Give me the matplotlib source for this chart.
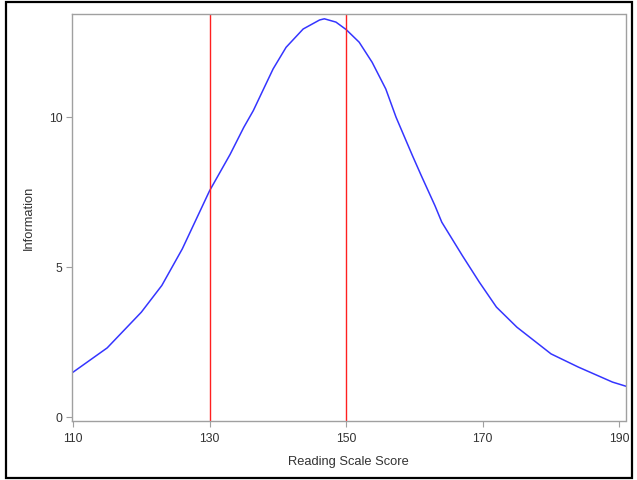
import matplotlib.pyplot as plt
from matplotlib.patches import Rectangle

plt.rcParams['font.family'] = ['Liberation Sans', 'DejaVu Sans']

# information curve
score = [110, 115, 120, 123, 126, 130, 133, 135, 136.4, 137.9, 139.3, 141.2,
         143.7, 146.1, 146.8, 148.5, 150, 151.9, 153.8, 155.8, 157.3, 159.7, 161,
         163, 164, 167, 169.5, 172, 175, 180, 184, 189, 191]
info = [1.49, 2.3, 3.49, 4.38, 5.6, 7.54, 8.75, 9.65, 10.21, 10.93, 11.6, 12.32,
        12.93, 13.23, 13.27, 13.16, 12.91, 12.49, 11.82, 10.93, 9.99, 8.71, 8.04,
        7.04, 6.49, 5.38, 4.49, 3.66, 2.99, 2.1, 1.66, 1.16, 1.02]
cutoffs = [130, 150]
xticks = [110, 130, 150, 170, 190]
yticks = [0, 5, 10]

fig = plt.figure(figsize=(6.37, 4.81), dpi=100)
ax = fig.add_axes([72 / 637, 1 - 421.5 / 481, 553.5 / 637, 406.5 / 481])

ax.plot(score, info, color='#3535ff', lw=1.1)
for c in cutoffs:
    ax.axvline(c, color='#ff2020', lw=1.0)

ax.set_xlim(109.85, 190.9)
ax.set_ylim(-0.12, 13.43)
ax.set_xticks(xticks)
ax.set_yticks(yticks)
ax.tick_params(direction='out', length=4, width=0.8, color='#a0a0a0',
               labelsize=8.8, labelcolor='#333333', pad=3)
ax.tick_params(axis='x', pad=4)
for s in ax.spines.values():
    s.set_color('#a0a0a0')
    s.set_linewidth(1.0)

ax.set_xlabel('Reading Scale Score', fontsize=9.3, color='#333333', labelpad=8)
ax.set_ylabel('Information', fontsize=9.3, color='#333333', labelpad=10)

# black frame round the whole picture
fig.patches.append(Rectangle((6 / 637, 2 / 481), 626 / 637, 476 / 481,
                             transform=fig.transFigure, fill=False,
                             edgecolor='black', lw=1.6))

fig.savefig('out.png', dpi=100)
